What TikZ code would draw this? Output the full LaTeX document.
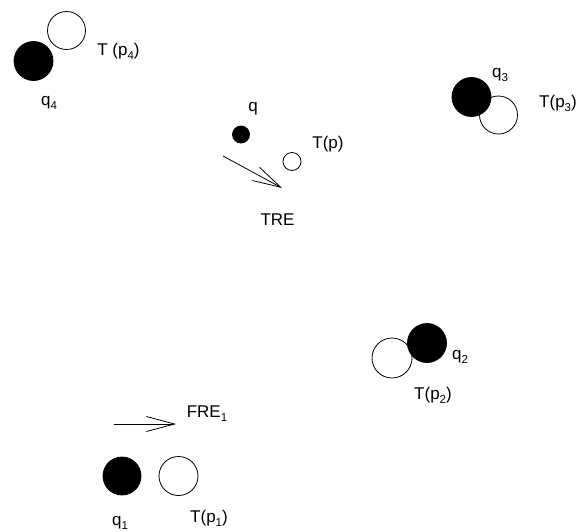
\documentclass[tikz,border=0pt]{standalone}
\usepackage{fontspec}
\setmainfont{Liberation Sans}
\usetikzlibrary{arrows.meta}
\newcommand\sbs[1]{\raisebox{-0.45ex}{\fontsize{11.5}{11.5}\selectfont #1}}
\tikzset{
  opendot/.style={circle, draw, line width=0.8pt, fill=white, inner sep=0pt, minimum size=#1},
  fulldot/.style={circle, draw, line width=0.8pt, fill=black, inner sep=0pt, minimum size=#1},
  lbl/.style={anchor=base, inner sep=0pt, font=\fontsize{17}{20}\selectfont},
  barb/.style={line width=0.8pt, -{Straight Barb[length=28pt,width=15pt,line width=0.8pt]}}
}
\begin{document}
\begin{tikzpicture}[x=1pt,y=-1pt]
\useasboundingbox (0,0) rectangle (580,531);
% open circles
\node[opendot=38pt] (Tp4) at (66.5,30.5) {};
\node[opendot=18pt] (Tp) at (292,161.5) {};
\node[opendot=38pt] (Tp3) at (498.5,115) {};
\node[opendot=40pt] (Tp2) at (392,358) {};
\node[opendot=39pt] (Tp1) at (178.5,476) {};
% filled circles
\node[fulldot=39pt] (q4) at (33.5,61) {};
\node[fulldot=17pt] (q) at (241,134.5) {};
\node[fulldot=39pt] (q3) at (471.5,97) {};
\node[fulldot=39pt] (q2) at (427,343) {};
\node[fulldot=38pt] (q1) at (122,476) {};
% labels
\node[lbl] (lTp4) at (118.5,55) {T (p\sbs{4})};
\node[lbl] (lq4) at (49,105.5) {q\sbs{4}};
\node[lbl] (lq) at (253,111.5) {q};
\node[lbl] (lTp) at (328,148.5) {T(p)};
\node[lbl] (lTRE) at (277.5,225) {TRE};
\node[lbl] (lq3) at (500,77) {q\sbs{3}};
\node[lbl] (lTp3) at (558,107) {T(p\sbs{3})};
\node[lbl] (lq2) at (460,359) {q\sbs{2}};
\node[lbl] (lTp2) at (433,399) {T(p\sbs{2})};
\node[lbl] (lFRE) at (207,417) {FRE\sbs{1}};
\node[lbl] (lq1) at (120,525) {q\sbs{1}};
\node[lbl] (lTp1) at (209,522) {T(p\sbs{1})};
% arrows
\coordinate (a1s) at (223,156);
\coordinate (a1e) at (282,188);
\coordinate (a2s) at (114,424);
\coordinate (a2e) at (176,424);
\draw[barb] (a1s) -- (a1e);
\draw[barb] (a2s) -- (a2e);
\end{tikzpicture}
\end{document}
